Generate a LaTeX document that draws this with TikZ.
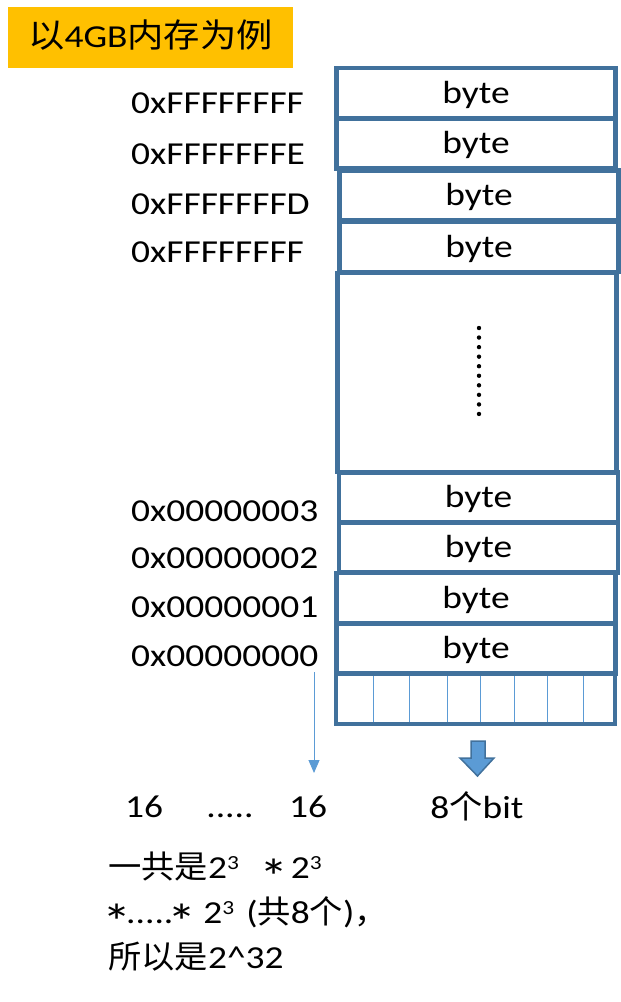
\documentclass[tikz,border=0pt]{standalone}
\usepackage{fontspec}
\setmainfont{Carlito}[FakeStretch=1.17]
\newfontfamily\cjk{Noto Sans CJK SC}[FakeStretch=1.04]
\newfontfamily\cjkt{Noto Sans CJK SC}[FakeStretch=1.1]
\usetikzlibrary{arrows.meta}
\definecolor{boxc}{HTML}{41719C}
\definecolor{lblue}{HTML}{5B9BD5}
\definecolor{gold}{HTML}{FFC000}
\newcommand\supthree{\raisebox{8.5pt}{\fontsize{20}{20}\selectfont 3}}
\newcommand\astx{\makebox[18pt]{\smash{\fontsize{50}{50}\selectfont\raisebox{-16pt}{*}}}}
\begin{document}
\begin{tikzpicture}[x=1pt,y=-1pt,
  big/.style={font=\fontsize{32}{40}\selectfont},
  cell/.style={draw=boxc, line width=4.5pt, minimum width=279pt, minimum height=50pt, inner sep=0pt, text height=23pt, text depth=3pt, big},
  addr/.style={anchor=base west, inner sep=0pt, big},
  bitline/.style={draw=lblue, line width=1pt},
  txt/.style={inner sep=0pt, anchor=base, big},
  note/.style={inner sep=0pt, anchor=base west, big}]
\useasboundingbox (0,0) rectangle (621,1002);
% title
\node[fill=gold, minimum width=285pt, minimum height=61pt, inner sep=0pt, text height=23pt, text depth=4pt, font=\fontsize{32}{40}\selectfont] (title) at (150.5,37.5) {{\cjkt\fontsize{33}{40}\selectfont 以}4GB{\cjkt\fontsize{33}{40}\selectfont 内存为例}};
% memory cells
\node[cell] (b1) at (476,93) {byte};
\node[cell] (b2) at (476,143.5) {byte};
\node[cell] (b3) at (479,195.5) {byte};
\node[cell] (b4) at (479,247) {byte};
\node[cell, minimum height=199pt] (gap) at (477,372.5) {};
\node[cell] (b5) at (478.5,497.5) {byte};
\node[cell] (b6) at (478.5,547.5) {byte};
\node[cell] (b7) at (476,598) {byte};
\node[cell] (b8) at (476,648.5) {byte};
\node[cell, minimum height=50pt] (bits) at (475.5,699) {};
\foreach \x in {373,409,447,480,514,547,583}
  \draw[bitline] (\x,676) -- (\x,722);
% vertical dots
\foreach \i in {0,...,9}
  \fill (479,328+9.55*\i) circle (2.2pt);
% addresses
\node[addr] (a1) at (131,113) {0xFFFFFFFF};
\node[addr] (a2) at (131,164) {0xFFFFFFFE};
\node[addr] (a3) at (131,214) {0xFFFFFFFD};
\node[addr] (a4) at (131,262) {0xFFFFFFFF};
\node[addr] (a5) at (131,521) {0x00000003};
\node[addr] (a6) at (131,568) {0x00000002};
\node[addr] (a7) at (131,617) {0x00000001};
\node[addr] (a8) at (131,666) {0x00000000};
% thin arrow
\coordinate (arrS) at (314,672);
\coordinate (arrE) at (314,773);
\draw[lblue, line width=1pt, -{Triangle[width=11pt,length=13pt]}] (arrS) -- (arrE);
% block arrow
\draw[fill=lblue, draw=boxc, line width=1.5pt, line join=miter]
  (471,741) -- (485,741) -- (485,758) -- (494,758) -- (477.5,776) -- (460,758) -- (471,758) -- cycle;
% bottom labels
\node[txt] (s1) at (144,817) {16};
\node[txt] (dots) at (230,817) {.....};
\node[txt] (s2) at (308,817) {16};
\node[txt] (bit) at (477,818) {8{\cjk 个}bit};
\node[note] (n1) at (108,878) {{\cjk 一共是}2\supthree\hspace{26pt}\astx\hspace{8pt}2\supthree};
\node[note] (n2) at (108,923) {\astx.....\astx\hspace{12pt}2\supthree\hspace{12pt}({\cjk 共}8{\cjk 个}){\cjk ，}};
\node[note] (n3) at (108,968) {{\cjk 所以是}2\^{}32};
\end{tikzpicture}
\end{document}
